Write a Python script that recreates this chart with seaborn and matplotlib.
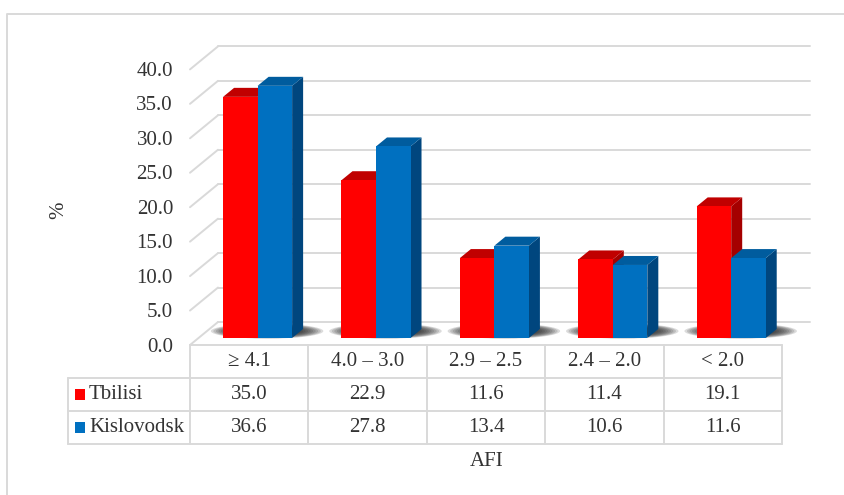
import numpy as np
import pandas as pd
import matplotlib
matplotlib.use("Agg")
import matplotlib.pyplot as plt
import seaborn as sns
from matplotlib.patches import Polygon, Ellipse, Rectangle
from matplotlib.lines import Line2D
from matplotlib.transforms import offset_copy

# ---- data -------------------------------------------------------------
categories = ["\u2265 4.1", "4.0 \u2013 3.0", "2.9 \u2013 2.5", "2.4 \u2013 2.0", "< 2.0"]
series = ["Tbilisi", "Kislovodsk"]
tbilisi = [35.0, 22.9, 11.6, 11.4, 19.1]
kislovodsk = [36.6, 27.8, 13.4, 10.6, 11.6]
y_ticks = [0, 5, 10, 15, 20, 25, 30, 35, 40]

front_col = {"Tbilisi": "#FF0000", "Kislovodsk": "#0070C0"}
top_col = {"Tbilisi": "#C00000", "Kislovodsk": "#005C9E"}
side_col = {"Tbilisi": "#A50000", "Kislovodsk": "#00467E"}

df = pd.DataFrame({
    "AFI": categories * 2,
    "Site": [s for s in series for _ in categories],
    "value": tbilisi + kislovodsk,
})

sns.set_theme(style="white")
plt.rcParams["font.family"] = ["Liberation Serif", "DejaVu Serif"]
TXT = "#333333"
GRID = "#D9D9D9"
FS = 15

W, H = 844, 495
fig = plt.figure(figsize=(W / 100, H / 100), dpi=100)
fig.patch.set_facecolor("white")

# axes = plane in which the bar front faces stand
ax_l, ax_b, ax_w, ax_h = 198.4, 157.0, 592.0, 275.6
ax = fig.add_axes([ax_l / W, ax_b / H, ax_w / W, ax_h / H])
ax.set_xlim(-0.5, 4.5)
ax.set_ylim(0, 40)
PX = ax_w / 5.0        # pixels per category
PY = ax_h / 40.0       # pixels per percent

# perspective offsets (data units)
FX, FY = -8.4 / PX, -7.0 / PY      # front edge of the floor
BX, BY = 19.6 / PX, 16.0 / PY      # back wall
DX, DY = 11.0 / PX, 9.0 / PY       # depth of one bar

x_left_f = -0.5 + FX
x_right_f = 4.5 + FX

# ---- walls, gridlines and floor --------------------------------------
for v in y_ticks:
    ax.add_line(Line2D([-0.5 + BX, 4.5 + BX], [v + BY, v + BY], color=GRID,
                       lw=1.4, zorder=0.5, clip_on=False))
    ax.add_line(Line2D([x_left_f, -0.5 + BX], [v + FY, v + BY], color=GRID,
                       lw=1.4, zorder=0.5, clip_on=False))

# soft shadows on the floor under each pair of bars
for i in range(len(categories)):
    for k in range(10):
        s = 1.0 - k * 0.045
        ax.add_patch(Ellipse((i + 0.08, 1.0), width=0.95 * s, height=2.2 * s,
                             facecolor="#222222", edgecolor="none",
                             alpha=0.16, zorder=1.5, clip_on=False))

# ---- bars -------------------------------------------------------------
sns.barplot(data=df, x="AFI", y="value", hue="Site", order=categories,
            hue_order=series, palette=front_col, saturation=1, width=0.583,
            gap=0, errorbar=None, legend=False, ax=ax)

for name, cont in zip(series, ax.containers):
    for bar in cont:
        bar.set_edgecolor("none")
        bar.set_linewidth(0)
        bar.set_zorder(3)
        x0 = bar.get_x()
        x1 = x0 + bar.get_width()
        h = bar.get_height()
        side = Polygon([(x1, 0), (x1, h), (x1 + DX, h + DY), (x1 + DX, DY)],
                       closed=True, facecolor=side_col[name], edgecolor="none",
                       zorder=2, clip_on=False)
        top = Polygon([(x0, h), (x1, h), (x1 + DX, h + DY), (x0 + DX, h + DY)],
                      closed=True, facecolor=top_col[name], edgecolor="none",
                      zorder=2, clip_on=False)
        ax.add_patch(side)
        ax.add_patch(top)

# ---- axis cosmetics ----------------------------------------------------
ax.set_xticks([])
ax.set_yticks([])
for sp in ax.spines.values():
    sp.set_visible(False)
ax.patch.set_alpha(0)

lab_tr = offset_copy(ax.transData, fig=fig, x=-17, y=-2, units="dots")
for v in y_ticks:
    ax.text(x_left_f, v + FY, f"{v:.1f}", transform=lab_tr, ha="right",
            va="center", fontsize=FS, color=TXT, clip_on=False)

ax.set_ylabel("%", fontsize=FS, color=TXT)
ax.yaxis.set_label_coords((68 - ax_l) / ax_w, (H - 210 - ax_b) / ax_h)
ax.set_xlabel("AFI", fontsize=FS, color=TXT)
ax.xaxis.set_label_coords((487 - ax_l) / ax_w, (H - 462 - ax_b) / ax_h)
ax.xaxis.label.set_va("center")

# ---- data table ---------------------------------------------------------
ROW = 33.0 / PY
row_y = [FY - ROW * k for k in range(4)]
x_leg = (68 - ax_l) / PX - 0.5
col_x = [x_left_f + j for j in range(len(categories) + 1)]

def tline(xs, ys):
    ax.add_line(Line2D(xs, ys, color=GRID, lw=1.4, zorder=0.6, clip_on=False))

tline([x_left_f, x_right_f], [row_y[0], row_y[0]])
for k in (1, 2, 3):
    tline([x_leg, x_right_f], [row_y[k], row_y[k]])
for xc in col_x:
    tline([xc, xc], [row_y[0], row_y[3]])
tline([x_leg, x_leg], [row_y[1], row_y[3]])

for j, cat in enumerate(categories):
    xc = x_left_f + j + 0.5
    ax.text(xc, (row_y[0] + row_y[1]) / 2, cat, ha="center", va="center",
            fontsize=FS, color=TXT, clip_on=False)
    ax.text(xc, (row_y[1] + row_y[2]) / 2, f"{tbilisi[j]:.1f}", ha="center",
            va="center", fontsize=FS, color=TXT, clip_on=False)
    ax.text(xc, (row_y[2] + row_y[3]) / 2, f"{kislovodsk[j]:.1f}", ha="center",
            va="center", fontsize=FS, color=TXT, clip_on=False)

for k, name in enumerate(series):
    yc = (row_y[k + 1] + row_y[k + 2]) / 2
    ax.add_patch(Rectangle(((75 - ax_l) / PX - 0.5, yc - 5.5 / PY), 10 / PX,
                           11 / PY, facecolor=front_col[name], edgecolor="none",
                           clip_on=False, zorder=3))
    ax.text((89 - ax_l) / PX - 0.5, yc, name, ha="left", va="center",
            fontsize=FS, color=TXT, clip_on=False)

# ---- outer frame --------------------------------------------------------
fig.add_artist(Line2D([7 / W, 7 / W, 1.0], [0.0, 1 - 14 / H, 1 - 14 / H],
                      transform=fig.transFigure, color=GRID, lw=1.4))

fig.savefig("out.png", dpi=100)
